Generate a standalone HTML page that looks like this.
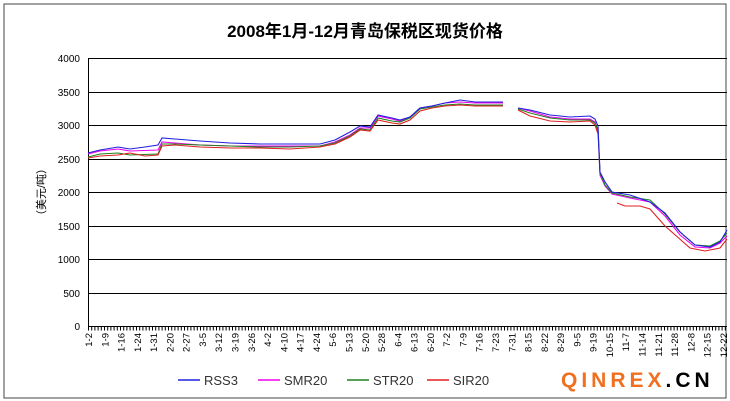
<!DOCTYPE html><html><head><meta charset="utf-8"><style>body{margin:0;background:#fff}svg{display:block}</style></head><body>
<svg width="730" height="401" xmlns="http://www.w3.org/2000/svg" font-family="Liberation Sans, Noto Sans CJK SC, sans-serif">
<rect x="4" y="4" width="722" height="394" fill="#fff" stroke="#444" stroke-width="1"/>
<text x="365" y="37" text-anchor="middle" font-size="17" font-weight="bold" fill="#000">2008年1月-12月青岛保税区现货价格</text>
<g stroke="#000" stroke-width="1">
<line x1="88" y1="58.5" x2="727" y2="58.5"/><line x1="88" y1="92.5" x2="727" y2="92.5"/><line x1="88" y1="125.5" x2="727" y2="125.5"/><line x1="88" y1="159.5" x2="727" y2="159.5"/><line x1="88" y1="192.5" x2="727" y2="192.5"/><line x1="88" y1="226.5" x2="727" y2="226.5"/><line x1="88" y1="259.5" x2="727" y2="259.5"/><line x1="88" y1="293.5" x2="727" y2="293.5"/><line x1="88" y1="326.5" x2="727" y2="326.5"/>
<line x1="88.5" y1="58" x2="88.5" y2="327"/>
</g>
<line x1="88" y1="328.5" x2="727" y2="328.5" stroke="#000" stroke-width="4" stroke-dasharray="1,2.2"/>
<g font-size="10" fill="#000" text-anchor="end">
<text x="80" y="62">4000</text><text x="80" y="96">3500</text><text x="80" y="129">3000</text><text x="80" y="163">2500</text><text x="80" y="196">2000</text><text x="80" y="230">1500</text><text x="80" y="263">1000</text><text x="80" y="297">500</text><text x="80" y="330">0</text>
</g>
<text transform="translate(45,192) rotate(-90)" text-anchor="middle" font-size="11">（美元/吨）</text>
<g font-size="9.5" fill="#000" text-anchor="end">
<text transform="translate(92.0,333) rotate(-90)">1-2</text>
<text transform="translate(108.3,333) rotate(-90)">1-9</text>
<text transform="translate(124.6,333) rotate(-90)">1-16</text>
<text transform="translate(140.8,333) rotate(-90)">1-24</text>
<text transform="translate(157.1,333) rotate(-90)">1-31</text>
<text transform="translate(173.4,333) rotate(-90)">2-20</text>
<text transform="translate(189.7,333) rotate(-90)">2-27</text>
<text transform="translate(206.0,333) rotate(-90)">3-5</text>
<text transform="translate(222.2,333) rotate(-90)">3-12</text>
<text transform="translate(238.5,333) rotate(-90)">3-19</text>
<text transform="translate(254.8,333) rotate(-90)">3-26</text>
<text transform="translate(271.1,333) rotate(-90)">4-2</text>
<text transform="translate(287.4,333) rotate(-90)">4-10</text>
<text transform="translate(303.6,333) rotate(-90)">4-17</text>
<text transform="translate(319.9,333) rotate(-90)">4-24</text>
<text transform="translate(336.2,333) rotate(-90)">5-6</text>
<text transform="translate(352.5,333) rotate(-90)">5-13</text>
<text transform="translate(368.8,333) rotate(-90)">5-20</text>
<text transform="translate(385.0,333) rotate(-90)">5-28</text>
<text transform="translate(401.3,333) rotate(-90)">6-4</text>
<text transform="translate(417.6,333) rotate(-90)">6-13</text>
<text transform="translate(433.9,333) rotate(-90)">6-20</text>
<text transform="translate(450.2,333) rotate(-90)">7-2</text>
<text transform="translate(466.4,333) rotate(-90)">7-9</text>
<text transform="translate(482.7,333) rotate(-90)">7-16</text>
<text transform="translate(499.0,333) rotate(-90)">7-23</text>
<text transform="translate(515.3,333) rotate(-90)">7-31</text>
<text transform="translate(531.6,333) rotate(-90)">8-15</text>
<text transform="translate(547.8,333) rotate(-90)">8-22</text>
<text transform="translate(564.1,333) rotate(-90)">8-29</text>
<text transform="translate(580.4,333) rotate(-90)">9-5</text>
<text transform="translate(596.7,333) rotate(-90)">9-19</text>
<text transform="translate(613.0,333) rotate(-90)">10-15</text>
<text transform="translate(629.2,333) rotate(-90)">11-7</text>
<text transform="translate(645.5,333) rotate(-90)">11-14</text>
<text transform="translate(661.8,333) rotate(-90)">11-21</text>
<text transform="translate(678.1,333) rotate(-90)">11-28</text>
<text transform="translate(694.4,333) rotate(-90)">12-8</text>
<text transform="translate(710.6,333) rotate(-90)">12-15</text>
<text transform="translate(726.9,333) rotate(-90)">12-22</text>
</g>
<g fill="none" stroke-width="1.1">
<path stroke="#e0e" d="M88,154 L100,151 118,149 130,151 158,150 162,142 175,143 200,145 230,146 260,146 290,146 320,146 335,142 350,135 360,128 370,128 378,116 392,119 400,121 410,117 420,108 432,106 445,103 460,102 475,103 490,103 503,103 M518,108 L530,111 550,117 570,119 590,119 595,122 598,132 600,175 605,186 612,194 630,198 650,202 665,216 680,235 695,247 710,248 720,243 727,236"/>
<path stroke="#208020" d="M88,157 L100,154 118,153 130,155 158,154 162,144 175,144 200,145 230,146 260,147 290,147 320,146 335,143 350,136 360,129 370,130 378,118 392,121 400,122 410,118 420,109 432,107 445,105 460,104 475,105 490,105 503,105 M518,109 L530,113 550,118 570,120 590,120 595,123 598,130 600,173 605,185 612,193 630,197 650,200 665,214 680,232 695,245 710,246 720,241 727,233"/>
<path stroke="#e02020" d="M88,158 L100,156 118,155 130,153 145,156 158,155 162,146 175,145 200,147 230,148 260,148 290,149 320,147 335,144 350,137 360,130 370,131 378,120 392,123 400,124 410,120 420,111 432,108 445,106 460,105 475,106 490,106 503,106 M518,110 L530,116 550,121 570,122 590,121 595,125 598,134 M617,203 L625,206 640,206 650,209 665,226 690,248 705,251 720,248 727,239"/>
<path stroke="#2020e0" d="M88,153 L100,150 118,147 130,149 145,147 158,145 162,138 175,139 200,141 230,143 260,144 290,144 320,144 335,140 350,132 360,126 370,127 378,115 392,118 400,120 410,117 420,108 432,106 445,103 460,100 475,102 490,102 503,102 M518,108 L530,110 550,115 570,117 590,116 595,119 598,126 600,172 605,182 612,192 630,195 650,202 665,213 680,232 695,245 710,247 720,242 727,230"/>
</g>
<g font-size="13" fill="#333">
<line x1="178" y1="380" x2="200" y2="380" stroke="#2020e0" stroke-width="1.5"/><text x="204" y="385">RSS3</text>
<line x1="258" y1="380" x2="280" y2="380" stroke="#e0e" stroke-width="1.5"/><text x="284" y="385">SMR20</text>
<line x1="347" y1="380" x2="369" y2="380" stroke="#208020" stroke-width="1.5"/><text x="373" y="385">STR20</text>
<line x1="427" y1="380" x2="449" y2="380" stroke="#e02020" stroke-width="1.5"/><text x="453" y="385">SIR20</text>
</g>
<text x="561" y="387" font-size="21" font-weight="bold" letter-spacing="4" fill="#f07020">QINREX<tspan fill="#000">.CN</tspan></text>
</svg></body></html>
